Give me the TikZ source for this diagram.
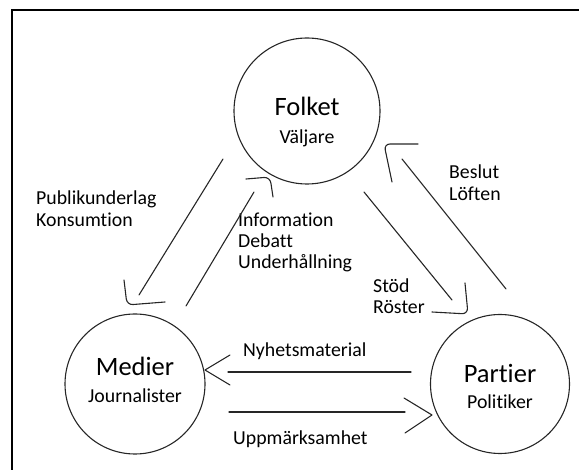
\documentclass[tikz,border=0pt]{standalone}
\usepackage{fontspec}
\setmainfont{Carlito}[Ligatures={NoCommon}]
\begin{document}
\begin{tikzpicture}[x=1pt,y=-1pt,
  circ/.style={draw=black!85, line width=1.1pt, circle, inner sep=0pt},
  big/.style={font=\fontsize{26.5}{30}\selectfont, anchor=base, inner sep=0pt},
  small/.style={font=\fontsize{19.8}{23}\selectfont, anchor=base, inner sep=0pt},
  lbl/.style={font=\fontsize{19.8}{23}\selectfont, anchor=base west, inner sep=0pt},
  stroke/.style={draw=black!85, line width=1.1pt, line cap=round, line join=round},
  hook/.style={stroke, rounded corners=6pt}]
\useasboundingbox (0,0) rectangle (579,470);
\begin{scope}
  \clip (0,0) rectangle (579,470);
  \draw[line width=2pt] (12,10) rectangle (700,600);
\end{scope}

% circles
\node[circ, minimum size=146pt] (folket) at (307,111) {};
\node[circ, minimum size=140pt] (medier) at (135,384) {};
\node[circ, minimum size=139pt] (partier) at (500,384) {};

% circle texts
\node[big] (tf) at (307,116) {Folket};
\node[small] (tv) at (307,144) {Väljare};
\node[big] (tm) at (135,376) {Medier};
\node[small] (tj) at (135,403) {Journalister};
\node[big] (tp) at (500,383) {Partier};
\node[small] (tpo) at (500,409) {Politiker};

% labels
\node[lbl] (l1a) at (36,205) {Publikunderlag};
\node[lbl] (l1b) at (36,227) {Konsumtion};
\node[lbl] (l2a) at (238,227) {Information};
\node[lbl] (l2b) at (238,248) {Debatt};
\node[lbl] (l2c) at (238,269) {Underhållning};
\node[lbl] (l3a) at (449,179) {Beslut};
\node[lbl] (l3b) at (449,201) {Löften};
\node[lbl] (l4a) at (373,293) {Stöd};
\node[lbl] (l4b) at (373,314) {Röster};
\node[lbl] (l5) at (243,357) {Nyhetsmaterial};
\node[lbl] (l6) at (233,445) {Uppmärksamhet};

% connector end points
\coordinate (fm1) at (223,159); \coordinate (fm2) at (139,295);
\coordinate (mf1) at (186,306); \coordinate (mf2) at (254,192);
\coordinate (fp1) at (364,192); \coordinate (fp2) at (452,300);
\coordinate (pf1) at (506,289); \coordinate (pf2) at (402,159);
\coordinate (pm1) at (411,372); \coordinate (pm2) at (228,372);
\coordinate (mp1) at (229,412); \coordinate (mp2) at (405,412);

% Folket -> Medier
\draw[stroke] (fm1) -- (fm2);
\draw[hook] (124,280) -- (127,305) -- (165,302);
% Medier -> Folket
\draw[stroke] (mf1) -- (mf2);
\draw[hook] (246,179) -- (270,177) -- (273,197);
% Folket -> Partier
\draw[stroke] (fp1) -- (fp2);
\draw[hook] (465,283) -- (468,314) -- (432,312);
% Partier -> Folket
\draw[stroke] (pf1) -- (pf2);
\draw[hook] (392,182) -- (384,144) -- (418,144);
% Partier -> Medier
\draw[stroke] (pm1) -- (pm2);
\draw[stroke] (230,355) -- (205,370) -- (230,385);
% Medier -> Partier
\draw[stroke] (mp1) -- (mp2);
\draw[stroke] (404,398) -- (432,415) -- (405,433);
\end{tikzpicture}
\end{document}
